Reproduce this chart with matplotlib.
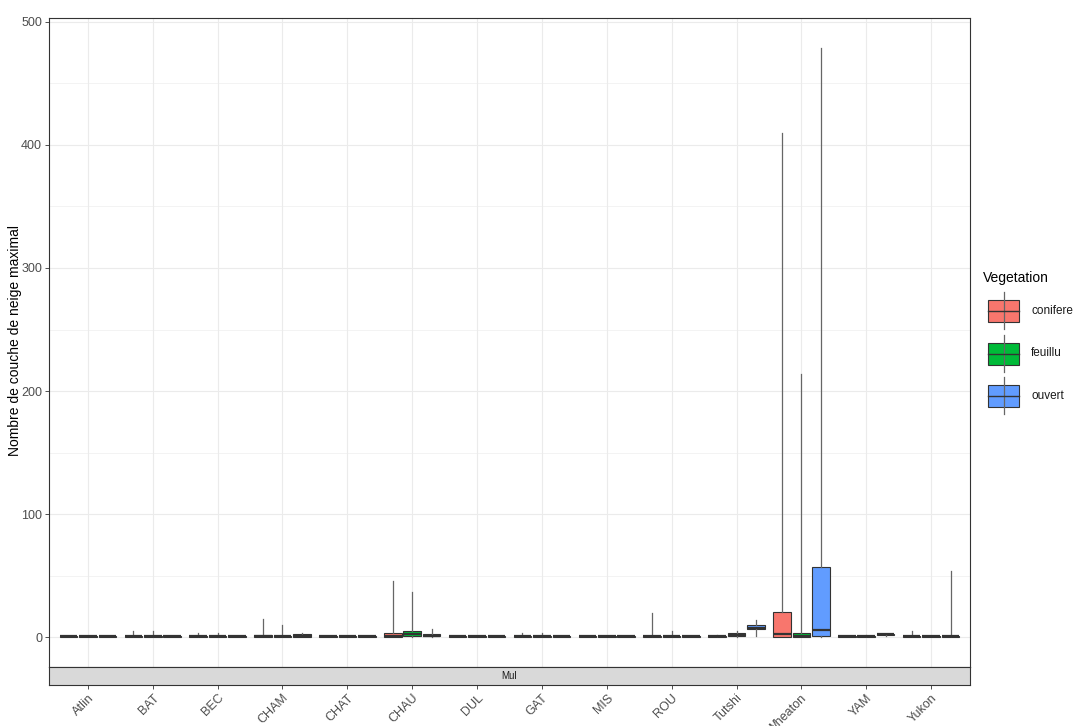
import matplotlib.pyplot as plt
from matplotlib.patches import Rectangle
import numpy as np

plt.rcParams['font.family'] = ['Liberation Sans', 'DejaVu Sans']

# Sites (x categories) and vegetation groups
sites = ['Atlin', 'BAT', 'BEC', 'CHAM', 'CHAT', 'CHAU', 'DUL', 'GAT', 'MIS',
         'ROU', 'Tutshi', 'Wheaton', 'YAM', 'Yukon']
vegetation = ['conifere', 'feuillu', 'ouvert']
colors = ['#F8766D', '#00BA38', '#619CFF']

# box stats per site: (min, q1, median, q3, max)
conifere_stats = [(0, 0, 1, 1, 1), (0, 0, 1, 1, 5.5), (0, 0, 1, 1, 4),
                  (0, 0, 1, 2, 15), (0, 0, 1, 1, 1), (0, 0, 1, 4, 46),
                  (0, 0, 1, 1, 1), (0, 0, 1, 1, 3.5), (0, 0, 1, 1, 1),
                  (0, 0, 1, 1, 19.5), (0, 0, 1, 1, 2), (0, 0, 2.5, 21, 410),
                  (0, 0, 1, 1, 1), (0, 0, 1, 1, 5.5)]
feuillu_stats = [(0, 0, 1, 1, 1), (0, 0, 1, 1, 5.5), (0, 0, 1, 1, 4),
                 (0, 0, 1, 1, 10), (0, 0, 1, 1, 1), (0, 1, 3, 5.5, 37),
                 (0, 0, 1, 1, 1), (0, 0, 1, 1, 4), (0, 0, 1, 1, 1),
                 (0, 0, 1, 1, 5.5), (0, 1, 2, 3.5, 5.5), (0, 0, 1, 4, 214),
                 (0, 0, 1, 1, 2), (0, 0, 1, 1, 1)]
ouvert_stats = [(0, 0, 1, 1, 1), (0, 0, 1, 1, 1), (0, 0, 1, 1, 1),
                (0, 0, 1, 2.5, 4), (0, 0, 1, 1, 1), (0, 1, 1.5, 2.5, 7),
                (0, 0, 1, 1, 1), (0, 0, 1, 1, 1), (0, 0, 1, 1, 1),
                (0, 0, 1, 1, 1), (1, 6.5, 8, 10, 14), (0, 1.5, 6, 57, 479),
                (1.5, 2, 2.5, 3, 3), (0, 0, 1, 1, 54)]
all_stats = [conifere_stats, feuillu_stats, ouvert_stats]

W, H = 1074, 726
fig = plt.figure(figsize=(W / 100, H / 100), dpi=100)

def fx(px):
    return px / W

def fy(py):
    return 1 - py / H

ax = fig.add_axes([fx(49), fy(667), fx(970) - fx(49), fy(18) - fy(667)])
x = np.arange(1, len(sites) + 1)
offsets = [-0.3, 0.0, 0.3]

for stats, col, off in zip(all_stats, colors, offsets):
    bxp_stats = [dict(whislo=s[0], q1=s[1], med=s[2], q3=s[3], whishi=s[4], fliers=[])
                 for s in stats]
    ax.bxp(bxp_stats, positions=x + off, widths=0.27, patch_artist=True,
           showcaps=False, showfliers=False, manage_ticks=False,
           boxprops=dict(facecolor=col, edgecolor='#333333', linewidth=0.8),
           medianprops=dict(color='#333333', linewidth=1.6),
           whiskerprops=dict(color='#666666', linewidth=0.9),
           zorder=3)

ax.set_xlim(0.4, len(sites) + 0.6)
ax.set_ylim(-24, 503)
ax.set_yticks([0, 100, 200, 300, 400, 500])
ax.set_yticks([50, 150, 250, 350, 450], minor=True)
ax.set_xticks(x)
ax.tick_params(axis='x', length=0, labelbottom=False)
ax.tick_params(axis='y', which='major', length=3, color='#333333', labelsize=9,
               labelcolor='#4D4D4D', width=0.6, pad=2)
ax.tick_params(axis='y', which='minor', length=0)
ax.grid(True, which='major', color='#EBEBEB', linewidth=0.8, zorder=0)
ax.grid(True, which='minor', axis='y', color='#EBEBEB', linewidth=0.4, zorder=0)
ax.set_axisbelow(True)
for sp in ax.spines.values():
    sp.set_color('#333333')
    sp.set_linewidth(0.8)
fig.text(fx(15), fy(340), 'Nombre de couche de neige maximal', rotation=90,
         ha='center', va='center', fontsize=10)

# bottom facet strip
sax = fig.add_axes([fx(49), fy(685), fx(970) - fx(49), fy(667) - fy(685)], sharex=ax)
sax.set_facecolor('#D9D9D9')
sax.set_yticks([])
sax.text(0.5, 0.5, 'Mul', transform=sax.transAxes, ha='center', va='center',
         fontsize=7, color='#1A1A1A')
for sp in sax.spines.values():
    sp.set_color('#333333')
    sp.set_linewidth(0.8)
sax.set_xticks(x)
sax.set_xticklabels(sites, rotation=45, ha='right', va='top', rotation_mode='anchor',
                    fontsize=9, color='#4D4D4D')
sax.tick_params(axis='x', length=3, color='#333333', width=0.6, pad=2)

# legend
lax = fig.add_axes([0, 0, 1, 1], facecolor='none')
lax.set_xlim(0, W)
lax.set_ylim(H, 0)
lax.axis('off')
lax.text(983, 278, 'Vegetation', fontsize=10, ha='left', va='center')
key_tops = [300, 342.5, 385]
for name, col, top in zip(vegetation, colors, key_tops):
    lax.plot([1003.5, 1003.5], [top - 8, top + 29], color='#666666', lw=0.9)
    lax.add_patch(Rectangle((988, top), 31, 22, facecolor=col, edgecolor='#333333', lw=0.8))
    lax.plot([988, 1019], [top + 11, top + 11], color='#333333', lw=1.0)
    lax.text(1031, top + 11, name, fontsize=8.5, ha='left', va='center', color='#1A1A1A')

fig.savefig('out.png', dpi=100)
